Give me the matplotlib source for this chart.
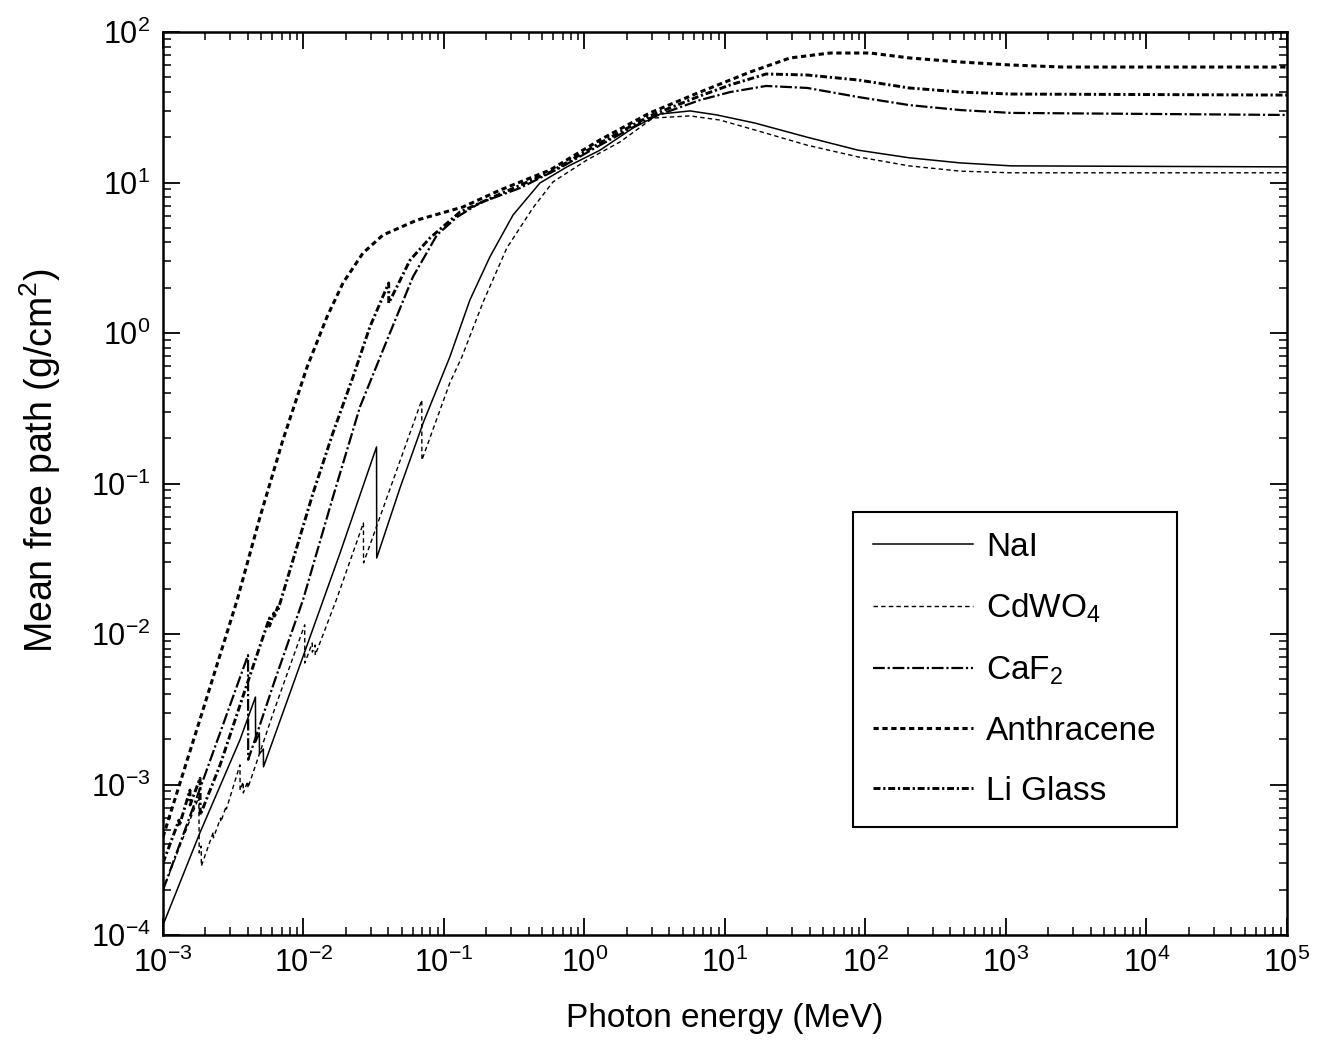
import matplotlib
matplotlib.use("Agg")
import matplotlib.pyplot as plt
from matplotlib.ticker import LogLocator, NullFormatter

plt.rcParams["font.family"] = ["Liberation Sans", "DejaVu Sans"]
plt.rcParams["mathtext.fontset"] = "custom"
plt.rcParams["mathtext.rm"] = "Liberation Sans"
plt.rcParams["mathtext.it"] = "Liberation Sans:italic"
plt.rcParams["mathtext.default"] = "regular"
plt.rcParams["lines.scale_dashes"] = False

# Photon mean free path (g/cm^2) versus photon energy (MeV) for scintillators
nai_energy = [1.0e-3, 1.83e-3, 3.53e-3, 4.55e-3, 4.56e-3, 4.85e-3, 4.86e-3, 5.18e-3, 5.19e-3,
              9.44e-3, 1.82e-2, 3.31e-2, 3.32e-2, 4.86e-2, 7.10e-2, 0.110, 0.153, 0.212, 0.310,
              0.482, 0.750, 1.29, 2.21, 3.45, 5.64, 8.77, 16.4, 38.4, 88.5, 204, 471, 1086, 1e5]
nai_mfp = [1.165e-4, 4.77e-4, 1.98e-3, 3.81e-3, 1.91e-3, 2.20e-3, 1.60e-3, 1.72e-3, 1.31e-3,
           6.22e-3, 3.45e-2, 0.175, 0.0320, 0.0933, 0.252, 0.693, 1.66, 3.20, 6.08,
           9.93, 12.7, 16.4, 23.0, 28.5, 29.9, 28.1, 24.8, 20.0, 16.4, 14.6, 13.5, 12.9, 12.7]

cdwo4_energy = [1.0e-3, 1.80e-3, 1.81e-3, 1.87e-3, 1.875e-3, 2.28e-3, 2.285e-3, 2.57e-3, 2.58e-3,
                2.82e-3, 2.825e-3, 3.53e-3, 3.54e-3, 3.72e-3, 3.73e-3, 4.01e-3, 4.02e-3, 6.26e-3,
                1.02e-2, 1.022e-2, 1.154e-2, 1.156e-2, 1.21e-2, 1.212e-2, 1.73e-2, 2.67e-2, 2.675e-2,
                4.48e-2, 6.95e-2, 6.96e-2, 0.110, 0.134, 0.190, 0.280, 0.429, 0.597, 1.04, 1.79,
                3.07, 5.64, 9.21, 16.4, 38.4, 88.5, 204, 471, 1086, 1e5]
cdwo4_mfp = [1.99e-4, 8.26e-4, 3.51e-4, 3.90e-4, 2.87e-4, 4.83e-4, 4.42e-4, 5.98e-4, 5.64e-4,
             7.19e-4, 6.87e-4, 1.35e-3, 9.18e-4, 1.04e-3, 8.79e-4, 1.05e-3, 9.49e-4, 3.22e-3,
             1.15e-2, 6.41e-3, 8.71e-3, 7.58e-3, 8.45e-3, 7.24e-3, 1.73e-2, 5.47e-2, 2.97e-2,
             0.114, 0.359, 0.143, 0.466, 0.693, 1.61, 3.67, 6.77, 10.1, 14.1, 18.6,
             26.8, 27.7, 26.0, 22.3, 17.7, 14.8, 12.9, 11.9, 11.6, 11.6]

caf2_energy = [1.0e-3, 1.83e-3, 4.03e-3, 4.04e-3, 6.26e-3, 9.91e-3, 1.62e-2, 2.52e-2, 3.93e-2,
               6.01e-2, 8.91e-2, 0.124, 0.180, 0.348, 0.670, 1.29, 2.92, 6.64, 10.9, 19.6,
               38.4, 88.5, 204, 471, 1086, 1e5]
caf2_mfp = [1.99e-4, 9.33e-4, 7.24e-3, 1.46e-3, 4.94e-3, 1.68e-2, 8.13e-2, 0.322, 0.897,
            2.36, 4.48, 5.90, 7.31, 9.19, 12.5, 17.7, 26.8, 35.3, 39.9, 43.8,
            42.5, 37.0, 32.7, 30.3, 29.0, 28.1]

anth_energy = [1.0e-3, 1.83e-3, 3.37e-3, 4.90e-3, 7.14e-3, 1.06e-2, 1.47e-2, 1.91e-2, 2.65e-2,
               3.68e-2, 6.43e-2, 0.136, 0.251, 0.568, 1.29, 2.92, 6.64, 15.1, 29.0, 55.8,
               108, 207, 471, 1067, 2506, 1e5]
anth_mfp = [4.48e-4, 2.69e-3, 1.68e-2, 5.98e-2, 0.195, 0.594, 1.28, 2.15, 3.40,
            4.48, 5.63, 6.87, 8.91, 12.1, 19.2, 29.0, 39.9, 54.2, 67.2, 72.5,
            72.5, 67.2, 63.2, 60.4, 58.5, 58.5]

li_energy = [1.0e-3, 1.30e-3, 1.305e-3, 1.555e-3, 1.56e-3, 1.835e-3, 1.84e-3, 2.55e-3, 3.84e-3,
             5.72e-3, 5.73e-3, 6.16e-3, 6.17e-3, 6.54e-3, 6.55e-3, 1.17e-2, 1.62e-2, 2.25e-2,
             2.97e-2, 4.04e-2, 4.045e-2, 5.73e-2, 7.94e-2, 0.130, 0.251, 0.568, 1.29, 2.92,
             6.64, 10.9, 19.6, 38.4, 88.5, 204, 471, 1086, 1e5]
li_mfp = [3.01e-4, 5.80e-4, 5.30e-4, 9.18e-4, 7.31e-4, 1.10e-3, 6.26e-4, 1.35e-3, 4.25e-3,
          1.276e-2, 1.130e-2, 1.380e-2, 1.276e-2, 1.510e-2, 1.422e-2, 8.65e-2, 0.217, 0.510,
          1.10, 2.15, 1.58, 3.05, 4.28, 6.37, 8.39, 11.7, 18.3, 27.7,
          37.6, 44.5, 52.6, 51.8, 48.0, 42.5, 39.9, 38.7, 38.1]

labels = ["NaI", "CdWO$_4$", "CaF$_2$", "Anthracene", "Li Glass"]
x_ticks = [1e-3, 1e-2, 1e-1, 1e0, 1e1, 1e2, 1e3, 1e4, 1e5]
x_tick_labels = ["$10^{-3}$", "$10^{-2}$", "$10^{-1}$", "$10^{0}$", "$10^{1}$",
                 "$10^{2}$", "$10^{3}$", "$10^{4}$", "$10^{5}$"]
y_ticks = [1e-4, 1e-3, 1e-2, 1e-1, 1e0, 1e1, 1e2]
y_tick_labels = ["$10^{-4}$", "$10^{-3}$", "$10^{-2}$", "$10^{-1}$", "$10^{0}$",
                 "$10^{1}$", "$10^{2}$"]

fig = plt.figure(figsize=(13.19, 10.44), dpi=100)
ax = fig.add_axes([163 / 1319, 1 - 935 / 1044, 1124 / 1319, 903 / 1044])

ax.plot(nai_energy, nai_mfp, color="black", lw=1.1, ls="-", label=labels[0])
ax.plot(cdwo4_energy, cdwo4_mfp, color="black", lw=1.0, dashes=(3.2, 2.3), label=labels[1])
ax.plot(caf2_energy, caf2_mfp, color="black", lw=1.6, dashes=(8.5, 2.0, 1.6, 2.0), label=labels[2])
ax.plot(anth_energy, anth_mfp, color="black", lw=2.2, dashes=(3.8, 2.6), label=labels[3])
ax.plot(li_energy, li_mfp, color="black", lw=2.1, dashes=(5.0, 2.0, 1.6, 2.0), label=labels[4])

ax.set_xscale("log")
ax.set_yscale("log")
ax.set_xlim(1e-3, 1e5)
ax.set_ylim(1e-4, 1e2)

ax.set_xticks(x_ticks)
ax.set_xticklabels(x_tick_labels)
ax.set_yticks(y_ticks)
ax.set_yticklabels(y_tick_labels)
for axis in (ax.xaxis, ax.yaxis):
    axis.set_minor_locator(LogLocator(base=10, subs=tuple(range(2, 10)), numticks=200))
    axis.set_minor_formatter(NullFormatter())

ax.tick_params(which="both", direction="in", top=True, right=True)
ax.tick_params(which="major", length=12, width=1.3, labelsize=22, pad=9)
ax.tick_params(which="minor", length=6, width=1.1)
for sp in ax.spines.values():
    sp.set_linewidth(1.8)

ax.set_xlabel("Photon energy (MeV)", fontsize=24)
ax.set_ylabel("Mean free path (g/cm$^2$)", fontsize=27)
ax.xaxis.set_label_coords(0.5, -0.075)
ax.yaxis.set_label_coords(-0.089, 0.525)

leg = ax.legend(loc="upper left", bbox_to_anchor=((853 - 163) / 1124, (935 - 512) / 903),
                borderaxespad=0, fontsize=24, frameon=True, fancybox=False,
                handlelength=3.0, handletextpad=0.4, borderpad=0.6, labelspacing=0.87)
leg.get_frame().set_edgecolor("black")
leg.get_frame().set_linewidth(1.5)
leg.get_frame().set_alpha(1)

fig.savefig("out.png", dpi=100)
